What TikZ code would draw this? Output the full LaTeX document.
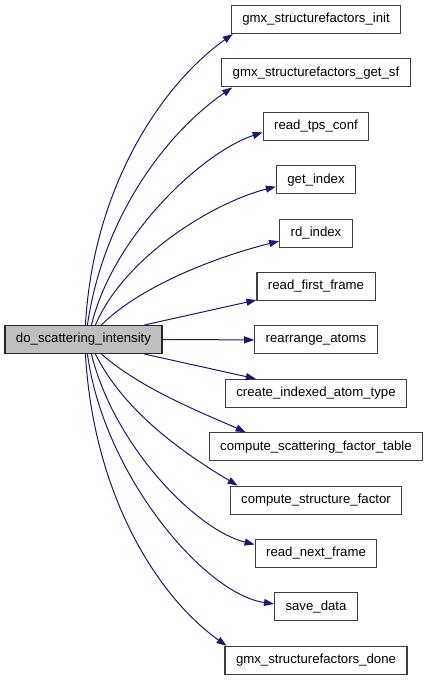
\documentclass[tikz,border=0pt]{standalone}
\usepackage{fontspec}
\setmainfont{Liberation Sans}
\usetikzlibrary{arrows.meta, math}
\definecolor{edgeblue}{RGB}{25,25,112}
\definecolor{boxgray}{RGB}{191,191,191}

\tikzset{
  fn/.style={draw=black!75, line width=1.1pt, fill=white, inner xsep=11pt,
    minimum height=28pt, font=\fontsize{13.2}{15}\selectfont},
  root/.style={fn, draw=black!85, fill=boxgray},
  call/.style={draw=edgeblue, line width=1pt, -{Triangle[length=10pt,width=7pt]}}
}

\begin{document}
\begin{tikzpicture}[x=1pt,y=1pt]
\tikzmath{
\X=316;
\Y=19.5;
\D=53.4;
}
\useasboundingbox (0,0) rectangle (427,-680);

% caller
\node[root] (scat) at (83.5,-339.5) {do\_scattering\_intensity};

% callees
\foreach \name/\txt [count=\i from 0] in {
  init/gmx\_structurefactors\_init,
  getsf/gmx\_structurefactors\_get\_sf,
  tps/read\_tps\_conf,
  getidx/get\_index,
  rdidx/rd\_index,
  first/read\_first\_frame,
  rearr/rearrange\_atoms,
  cia/create\_indexed\_atom\_type,
  csft/compute\_scattering\_factor\_table,
  csf/compute\_structure\_factor,
  next/read\_next\_frame,
  save/save\_data,
  done/gmx\_structurefactors\_done}
  \node[fn] (\name) at (\X,{-\Y-\D*\i}) {\txt};

% calls above
\draw[call] ([xshift=81pt]scat.north west) .. controls +(8,140) and +(-70,-50) .. ([xshift=2pt]init.south west);
\draw[call] ([xshift=83pt]scat.north west) .. controls +(16,110) and +(-65,-45) .. ([xshift=11pt]getsf.south west);
\draw[call] ([xshift=87pt]scat.north west) .. controls +(22,90) and +(-60,-20) .. ([yshift=-6pt]tps.west);
\draw[call] ([xshift=91pt]scat.north west) .. controls +(30,70) and +(-60,-15) .. ([yshift=-7pt]getidx.west);
\draw[call] ([xshift=97pt]scat.north west) .. controls +(40,40) and +(-60,-15) .. ([yshift=-8pt]rdidx.west);
\draw[call] ([xshift=140pt]scat.north west) -- ([yshift=1pt]first.south west);
\draw[call] (scat.east) -- (rearr.west);

% calls below
\draw[call] ([xshift=140pt]scat.south west) -- ([xshift=31pt]cia.north west);
\draw[call] ([xshift=97pt]scat.south west) .. controls +(40,-35) and +(-45,20) .. ([xshift=37pt]csft.north west);
\draw[call] ([xshift=91pt]scat.south west) .. controls +(30,-60) and +(-50,30) .. ([xshift=8pt]csf.north west);
\draw[call] ([xshift=87pt]scat.south west) .. controls +(22,-90) and +(-60,15) .. ([yshift=9pt]next.west);
\draw[call] ([xshift=83pt]scat.south west) .. controls +(16,-120) and +(-70,10) .. ([yshift=3pt]save.west);
\draw[call] ([xshift=81pt]scat.south west) .. controls +(8,-140) and +(-70,50) .. ([xshift=2pt]done.north west);

\end{tikzpicture}
\end{document}
